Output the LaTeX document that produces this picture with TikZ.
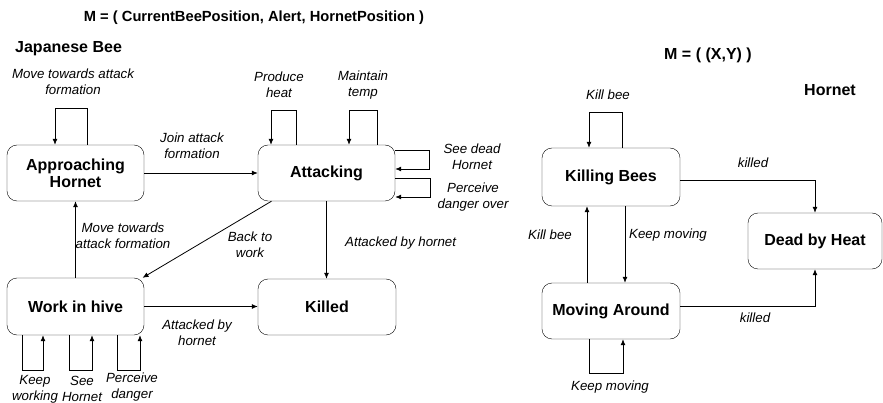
\documentclass[tikz,border=0pt]{standalone}
\usepackage{fontspec}
\setmainfont{Liberation Sans}
\usetikzlibrary{arrows.meta,calc}

\begin{document}
\begin{tikzpicture}[x=1pt,y=-1pt,
  state/.style={draw,rounded corners=10pt,inner sep=0pt,align=center,
    font=\fontsize{16}{17}\selectfont\bfseries},
  lbl/.style={align=center,inner sep=0pt,font=\fontsize{13.3}{16}\selectfont\itshape},
  hdr/.style={inner sep=0pt,font=\fontsize{16}{18}\selectfont\bfseries},
  arr/.style={-{Latex[length=6pt,width=5pt]},line width=0.8pt}]
\useasboundingbox (0,0) rectangle (883,403);

% headings
\node[hdr,font=\fontsize{14.7}{18}\selectfont\bfseries] (mbee) at (254,18) {M = ( CurrentBeePosition, Alert, HornetPosition )};
\node[hdr,anchor=west] (jbee) at (15,49) {Japanese Bee};
\node[hdr] (mhor) at (708,55) {M = ( (X,Y) )};
\node[hdr] (horn) at (830,90) {Hornet};

% Japanese bee states
\node[state,minimum width=137pt,minimum height=56pt] (AH) at (75.5,173) {Approaching\\Hornet};
\node[state,minimum width=137pt,minimum height=56pt] (Att) at (326.5,173) {Attacking};
\node[state,minimum width=137pt,minimum height=57pt] (WH) at (75.5,306.5) {Work in hive};
\node[state,minimum width=138pt,minimum height=56pt] (Kd) at (327,307) {Killed};

% hornet states
\node[state,minimum width=138pt,minimum height=58pt] (KB) at (611,177) {Killing Bees};
\node[state,minimum width=138pt,minimum height=56pt] (MA) at (611,311) {Moving Around};
\node[state,minimum width=134pt,minimum height=56pt] (DH) at (815,241) {Dead by Heat};

% bee transitions
\draw[arr] (AH.east) -- (Att.west);
\draw[arr] (WH.north) -- (AH.south);
\draw[arr] ($(Att.south)+(-55,0)$) -- ($(WH.north)+(67,0)$);
\draw[arr] (Att.south) -- (Att.south |- Kd.north);
\draw[arr] (WH.east) -- (WH.east -| Kd.west);

% bee loops
\draw[arr] ($(AH.north)+(11.5,0)$) -- ++(0,-36) -| ($(AH.north)+(-20.5,0)$);
\draw[arr] ($(Att.north)+(-30.5,0)$) -- ++(0,-34) -| ($(Att.north)+(-55.5,0)$);
\draw[arr] ($(Att.north)+(50.5,0)$) -- ++(0,-34) -| ($(Att.north)+(22.5,0)$);
\draw[arr] ($(Att.east)+(0,-23)$) -- ++(34,0) -- ++(0,19) -- ++(-34,0);
\draw[arr] ($(Att.east)+(0,5)$) -- ++(35,0) -- ++(0,19) -- ++(-35,0);
\draw[arr] ($(WH.south)+(-53.5,0)$) -- ++(0,35) -| ($(WH.south)+(-32.5,0)$);
\draw[arr] ($(WH.south)+(-6.5,0)$) -- ++(0,35) -| ($(WH.south)+(16.5,0)$);
\draw[arr] ($(WH.south)+(41.5,0)$) -- ++(0,35) -| ($(WH.south)+(64.5,0)$);

% hornet transitions
\draw[arr] ($(MA.north)+(-24,0)$) -- ($(KB.south)+(-24,0)$);
\draw[arr] ($(KB.south)+(14,0)$) -- ($(MA.north)+(14,0)$);
\draw[arr] ($(KB.east)+(0,3)$) -| (DH.north);
\draw[arr] ($(MA.east)+(0,-5)$) -| (DH.south);
\draw[arr] ($(KB.north)+(11,0)$) -- ++(0,-35) -| ($(KB.north)+(-22,0)$);
\draw[arr] ($(MA.south)+(-22,0)$) -- ++(0,34) -| ($(MA.south)+(12,0)$);

% bee labels
\node[lbl] (lmove) at (73,82) {Move towards attack\\formation};
\node[lbl] (ljoin) at (192,146) {Join attack\\formation};
\node[lbl] (lheat) at (279,85) {Produce\\heat};
\node[lbl] (ltemp) at (363,85) {Maintain\\temp};
\node[lbl] (ldead) at (472,157) {See dead\\Hornet};
\node[lbl] (lover) at (473,197) {Perceive\\danger over};
\node[lbl] (lmove2) at (123,236) {Move towards\\attack formation};
\node[lbl] (lback) at (250,245) {Back to\\work};
\node[lbl,anchor=west] (latt) at (345,243) {Attacked by hornet};
\node[lbl] (latt2) at (197,333) {Attacked by\\hornet};
\node[lbl] (lkeep) at (35,389) {Keep\\working};
\node[lbl] (lsee) at (82,389) {See\\Hornet};
\node[lbl] (lperc) at (132,387) {Perceive\\danger};

% hornet labels
\node[lbl] (lkill) at (608,95) {Kill bee};
\node[lbl] (lkill2) at (550,235) {Kill bee};
\node[lbl,anchor=west] (lkeepm) at (629,235) {Keep moving};
\node[lbl] (lkd) at (753,163) {killed};
\node[lbl] (lkd2) at (755,318) {killed};
\node[lbl] (lkeepm2) at (610,387) {Keep moving};
\end{tikzpicture}
\end{document}
